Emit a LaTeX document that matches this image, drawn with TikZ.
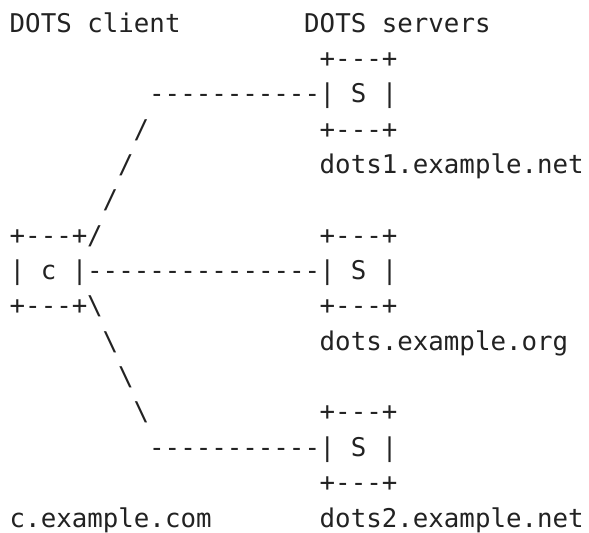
\documentclass[tikz,border=0pt]{standalone}
\usepackage{fontspec}
\setmonofont{DejaVu Sans Mono}
\usetikzlibrary{positioning}
\definecolor{inkgray}{HTML}{222222}

\begin{document}
\begin{tikzpicture}[x=15.5bp,y=-35.36bp,
  txt/.style={inner sep=0pt,anchor=base west,text=inkgray,
    font=\fontsize{25.8bp}{31bp}\selectfont\ttfamily}]
\useasboundingbox (-0.613,-0.905) rectangle (37.387,14.168);
% headings
\node[txt] (hdrc) at (0,0) {DOTS client};
\node[txt] (hdrs) at (19,0) {DOTS servers};
% server dots1
\node[txt] (s1top) at (20,1) {+---+};
\node[txt] (s1) at (20,2) {| S |};
\node[txt] (s1bot) at (20,3) {+---+};
\node[txt] (s1name) at (20,4) {dots1.example.net};
\node[txt] (l1) at (9,2) {-----------};
\foreach \r/\c in {3/8,4/7,5/6,6/5}
  \node[txt] (up\r) at (\c,\r) {/};
% client and server dots
\node[txt] (ctop) at (0,6) {+---+};
\node[txt] (c) at (0,7) {| c |};
\node[txt] (cbot) at (0,8) {+---+};
\node[txt] (l0) at (5,7) {---------------};
\node[txt] (s0top) at (20,6) {+---+};
\node[txt] (s0) at (20,7) {| S |};
\node[txt] (s0bot) at (20,8) {+---+};
\node[txt] (s0name) at (20,9) {dots.example.org};
% server dots2
\foreach \r/\c in {8/5,9/6,10/7,11/8}
  \node[txt] (dn\r) at (\c,\r) {\textbackslash};
\node[txt] (l2) at (9,12) {-----------};
\node[txt] (s2top) at (20,11) {+---+};
\node[txt] (s2) at (20,12) {| S |};
\node[txt] (s2bot) at (20,13) {+---+};
\node[txt] (s2name) at (20,14) {dots2.example.net};
\node[txt] (cname) at (0,14) {c.example.com};
\end{tikzpicture}
\end{document}
